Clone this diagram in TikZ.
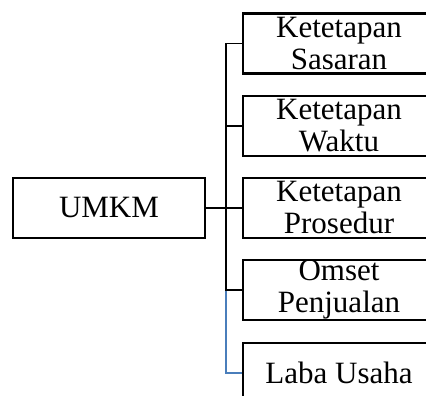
\documentclass[tikz,border=0pt]{standalone}
\usepackage{fontspec}
\setmainfont{Liberation Serif}
\definecolor{linkblue}{RGB}{74,126,187}
\tikzset{
	box/.style={draw, line width=2.2pt, minimum width=192pt, minimum height=60pt,
		inner sep=0pt, align=center, font=\fontsize{31}{32}\selectfont},
	link/.style={line width=1.1pt}
}
\begin{document}
\begin{tikzpicture}[x=1pt,y=-1pt]
			\useasboundingbox (0,0) rectangle (426,396);
			\clip (0,0) rectangle (426,396);
			
			\node[box] (umkm) at (109,208)	{UMKM};
			\node[box] (sasaran) at (339,43.5)	{Ketetapan\\Sasaran};
			\node[box] (waktu) at (339,126)	{Ketetapan\\Waktu};
			\node[box] (prosedur) at (339,208)	{Ketetapan\\Prosedur};
			\node[box] (omset) at (339,290)	{Omset\\Penjualan};
			\node[box] (laba) at (339,373)	{Laba Usaha};
			
			\coordinate (trunk) at (226,208);
			
			\draw[link, linkblue, line width=1.4pt] (umkm.east) -- (trunk) |- (laba.west);
			\draw[link] (umkm.east) -- (trunk);
			\draw[link] (sasaran.west) -| (trunk);
			\draw[link] (waktu.west) -| (trunk);
			\draw[link] (prosedur.west) -| (trunk);
			\draw[link] (omset.west) -| (trunk);
		\end{tikzpicture}
\end{document}
